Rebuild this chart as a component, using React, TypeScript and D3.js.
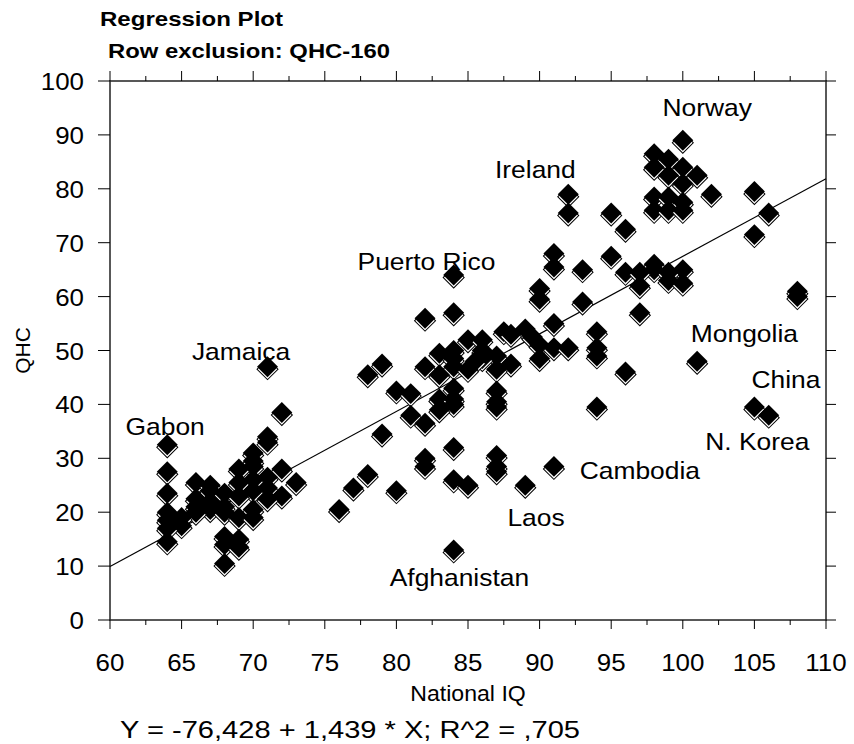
import * as d3 from "d3";

// national IQ, QHC
const points: [number, number][] = [
  [64, 32.5], [64, 27.5], [64, 23.5], [64, 20], [64, 18.5], [64, 17], [64, 14.5],
  [65, 19], [65, 17.5],
  [66, 25.5], [66, 22.5], [66, 21], [66, 20],
  [67, 25], [67, 24], [67, 22], [67, 20.5], [67, 21.5],
  [68, 23.5], [68, 21], [68, 15.5], [68, 14], [68, 10.5], [68, 20],
  [69, 28], [69, 25.5], [69, 19], [69, 15], [69, 13.5], [69, 23],
  [70, 31], [70, 29.5], [70, 28.5], [70, 26], [70, 24], [70, 19], [70, 20.5],
  [71, 34], [71, 33], [71, 26.5], [71, 24.5], [71, 22.5], [71, 47],
  [72, 38.5], [72, 28], [72, 23],
  [73, 25.5],
  [76, 20.5], [77, 24.5], [78, 27], [78, 45.5], [79, 47.5], [79, 34.5],
  [80, 24], [80, 42.5], [81, 42], [81, 38], [82, 36.5], [82, 47], [82, 56],
  [83, 49.5], [83, 41], [83, 39], [84, 40], [84, 57], [84, 64],
  [82, 30], [82, 28.5], [84, 32], [84, 26], [85, 25], [84, 13],
  [83, 45.5], [84, 47], [84, 43], [84, 41], [84, 48.5], [84, 50],
  [85, 52], [85, 46.5], [85.5, 48], [86, 52], [86, 50], [86, 48.5],
  [87, 49], [87, 46.5], [87, 42.5], [87, 40.5], [87, 39.5], [87, 30.5], [87, 28.5], [87, 27.5],
  [87.5, 53.5], [88, 53], [88, 47.5], [89, 54], [89, 25], [89.5, 52.5],
  [90, 61.5], [90, 59.5], [90, 51], [90, 48.5],
  [91, 68], [91, 65.5], [91, 55], [91, 50.5], [91, 28.5],
  [92, 79], [92, 75.5], [92, 50.5], [93, 65], [93, 59],
  [94, 53.5], [94, 50.5], [94, 49], [94, 39.5],
  [95, 75.5], [95, 67.5], [96, 72.5], [96, 64.5], [96, 46],
  [97, 64.5], [97, 62], [97, 57],
  [98, 86.5], [98, 84], [98, 78.5], [98, 76], [98, 66], [98, 65],
  [99, 85.5], [99, 82.5], [99, 78.5], [99, 76], [99, 64.5], [99, 63],
  [100, 89], [100, 84], [100, 81], [100, 77.5], [100, 76], [100, 65], [100, 62.5],
  [101, 82.5], [101, 48], [102, 79],
  [105, 79.5], [105, 71.5], [105, 39.5], [106, 75.5], [106, 38],
  [108, 61], [108, 60],
];

const countryLabels = [
  { name: "Norway", iq: 101.7, qhc: 93.5 },
  { name: "Ireland", iq: 89.7, qhc: 82 },
  { name: "Puerto Rico", iq: 82.1, qhc: 64.9 },
  { name: "Jamaica", iq: 69.15, qhc: 48.2 },
  { name: "Gabon", iq: 63.85, qhc: 34.3 },
  { name: "Mongolia", iq: 104.3, qhc: 51.6 },
  { name: "China", iq: 107.2, qhc: 43 },
  { name: "N. Korea", iq: 105.2, qhc: 31.5 },
  { name: "Cambodia", iq: 97, qhc: 26.2 },
  { name: "Laos", iq: 89.75, qhc: 17.4 },
  { name: "Afghanistan", iq: 84.4, qhc: 6.3 },
];

const xTicks = d3.range(60, 110.01, 5);
const xMinorTicks = d3.range(62.5, 110, 5);
const yTicks = d3.range(0, 100.01, 10);

const intercept = -76.428;
const slope = 1.439;

const W = 854, H = 744;
const M = { left: 110, right: 28, top: 81, bottom: 124 };

export default function App() {
  const x = d3.scaleLinear().domain([60, 110]).range([M.left, W - M.right]);
  const y = d3.scaleLinear().domain([0, 100]).range([H - M.bottom, M.top]);
  const diamond = d3.symbol(d3.symbolSquare, 220)();
  const font = "Liberation Sans, Arial, sans-serif";
  const x0 = x.range()[0], x1 = x.range()[1];
  const y0 = y.range()[0], y1 = y.range()[1];

  const sorted = [...points].sort((a, b) => b[1] - a[1]);

  return (
    <svg width={W} height={H} style={{ position: "absolute", left: 0, top: 0, background: "#fff" }} fontFamily={font}>
      <text x={100} y={26} fontSize={21} fontWeight="bold" textLength={183} lengthAdjust="spacingAndGlyphs">Regression Plot</text>
      <text x={108} y={58} fontSize={21} fontWeight="bold" textLength={282} lengthAdjust="spacingAndGlyphs">Row exclusion: QHC-160</text>

      <rect x={x0} y={y1} width={x1 - x0} height={y0 - y1} fill="none" stroke="#222" strokeWidth={1.5} />

      {yTicks.map(t => (
        <g key={"y" + t}>
          <line x1={x0 - 12} x2={x0} y1={y(t)} y2={y(t)} stroke="#000" />
          <line x1={x1} x2={x1 + 10} y1={y(t)} y2={y(t)} stroke="#000" />
          <text transform={`translate(${x0 - 26},${y(t) + 9}) scale(1.08,1)`} textAnchor="end" fontSize={24}>{t}</text>
        </g>
      ))}
      {xTicks.map(t => (
        <g key={"x" + t}>
          <line x1={x(t)} x2={x(t)} y1={y0} y2={y0 + 9} stroke="#000" />
          <line x1={x(t)} x2={x(t)} y1={y1} y2={y1 - 10} stroke="#000" />
          <text transform={`translate(${x(t)},${y0 + 51}) scale(1.08,1)`} textAnchor="middle" fontSize={24}>{t}</text>
        </g>
      ))}
      {xMinorTicks.map(t => (
        <g key={"xm" + t}>
          <line x1={x(t)} x2={x(t)} y1={y0} y2={y0 + 5} stroke="#000" />
          <line x1={x(t)} x2={x(t)} y1={y1} y2={y1 - 5} stroke="#000" />
        </g>
      ))}

      <line x1={x(60)} y1={y(intercept + slope * 60)} x2={x(110)} y2={y(intercept + slope * 110)} stroke="#000" strokeWidth={1.2} />

      {sorted.map((p, i) => (
        <g key={i} transform={`translate(${x(p[0])},${y(p[1])})`}>
          <path d={diamond} transform="translate(0,2.5) rotate(45)" fill="#fff" stroke="#000" strokeWidth={1} />
          <path d={diamond} transform="rotate(45)" fill="#000" />
        </g>
      ))}

      {countryLabels.map(l => (
        <text key={l.name} transform={`translate(${x(l.iq)},${y(l.qhc)}) scale(1.1,1)`} textAnchor="middle" fontSize={24}>{l.name}</text>
      ))}

      <text transform={`translate(${30},${(y0 + y1) / 2}) rotate(-90)`} textAnchor="middle" fontSize={21}>QHC</text>
      <text transform={`translate(${(x0 + x1) / 2},${701}) scale(1.05,1)`} textAnchor="middle" fontSize={22}>National IQ</text>
      <text x={120} y={738} fontSize={23} textLength={460} lengthAdjust="spacingAndGlyphs">Y = -76,428 + 1,439 * X; R^2 = ,705</text>
    </svg>
  );
}
